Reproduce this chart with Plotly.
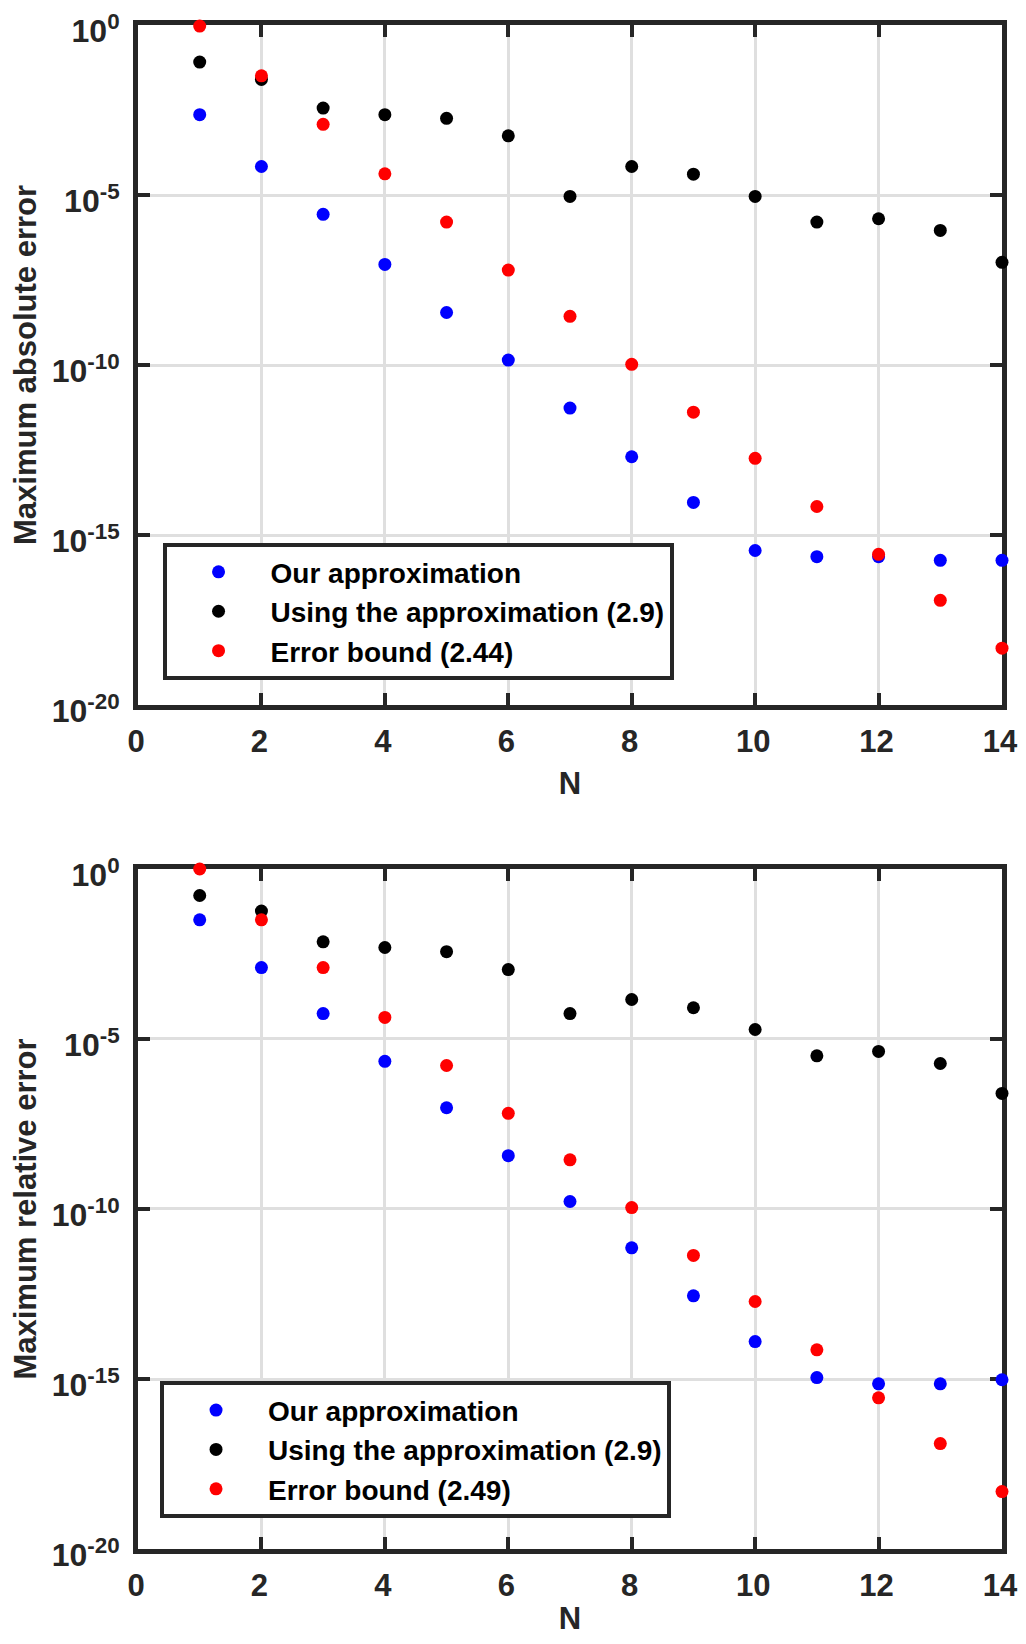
import plotly.graph_objects as go

N = list(range(1, 15))

# Top panel: maximum absolute error
abs_ours = [2.3e-3, 6.9e-5, 2.7e-6, 9.1e-8, 3.5e-9, 1.4e-10, 5.4e-12, 2.0e-13,
            9.1e-15, 3.5e-16, 2.3e-16, 2.3e-16, 1.8e-16, 1.8e-16]
abs_29 = [8.1e-2, 2.5e-2, 3.6e-3, 2.3e-3, 1.8e-3, 5.5e-4, 9.1e-6, 6.9e-5,
          4.1e-5, 9.1e-6, 1.6e-6, 2.0e-6, 9.1e-7, 1.05e-7]
abs_bound = [0.93, 3.2e-2, 1.2e-3, 4.2e-5, 1.6e-6, 6.2e-8, 2.7e-9, 1.05e-10,
             4.1e-12, 1.8e-13, 6.9e-15, 2.7e-16, 1.2e-17, 4.7e-19]

# Bottom panel: maximum relative error
rel_ours = [3.2e-2, 1.26e-3, 5.6e-5, 2.2e-6, 9.5e-8, 3.7e-9, 1.66e-10, 7.2e-12,
            2.8e-13, 1.26e-14, 1.1e-15, 7.2e-16, 7.2e-16, 9.5e-16]
rel_29 = [0.166, 5.8e-2, 7.2e-3, 4.9e-3, 3.7e-3, 1.1e-3, 5.6e-5, 1.45e-4,
          8.3e-5, 1.9e-5, 3.2e-6, 4.3e-6, 1.9e-6, 2.5e-7]
rel_bound = [1.0, 3.2e-2, 1.26e-3, 4.3e-5, 1.66e-6, 6.5e-8, 2.8e-9, 1.1e-10,
             4.3e-12, 1.9e-13, 7.2e-15, 2.8e-16, 1.26e-17, 4.9e-19]

names_top = ["Our approximation", "Using the approximation (2.9)", "Error bound (2.44)"]
names_bot = ["Our approximation", "Using the approximation (2.9)", "Error bound (2.49)"]
colors = ["#0000ff", "#000000", "#ff0000"]

y_tickvals = [1e-20, 1e-15, 1e-10, 1e-5, 1]
y_ticktext = ["10<sup>-20</sup>", "10<sup>-15</sup>", "10<sup>-10</sup>", "10<sup>-5</sup>", "10<sup>0</sup>"]
x_tickvals = [0, 2, 4, 6, 8, 10, 12, 14]

FONT = "Liberation Sans, Arial, Helvetica, sans-serif"
AX = "#262626"
GRID = "#dfdfdf"

fig = go.Figure()
for ys, nm, c in zip([abs_ours, abs_29, abs_bound], names_top, colors):
    fig.add_trace(go.Scatter(x=N, y=ys, mode="markers", name=nm,
                             marker=dict(color=c, size=13), cliponaxis=False,
                             xaxis="x", yaxis="y", legend="legend"))
for ys, nm, c in zip([rel_ours, rel_29, rel_bound], names_bot, colors):
    fig.add_trace(go.Scatter(x=N, y=ys, mode="markers", name=nm,
                             marker=dict(color=c, size=13), cliponaxis=False,
                             xaxis="x2", yaxis="y2", legend="legend2"))

common_x = dict(range=[0, 14], tickvals=x_tickvals, showline=True, linewidth=5,
                linecolor=AX, mirror="allticks", ticks="inside", ticklen=12,
                tickwidth=4, tickcolor=AX, showgrid=True, gridcolor=GRID,
                gridwidth=3, zeroline=False, layer="below traces", automargin=False,
                tickfont=dict(family=FONT, size=31, color=AX, weight="bold"),
                ticklabelstandoff=5, ticklabelshift=-2, ticklabeloverflow="allow")
common_y = dict(type="log", range=[-20, 0], tickvals=y_tickvals, ticktext=y_ticktext,
                showline=True, linewidth=5, linecolor=AX, mirror="allticks",
                ticks="inside", ticklen=12, tickwidth=4, tickcolor=AX,
                showgrid=True, gridcolor=GRID, gridwidth=3, zeroline=False,
                layer="below traces", automargin=False,
                tickfont=dict(family=FONT, size=32, color=AX, weight="bold"),
                ticklabelstandoff=7, ticklabelshift=6, ticklabeloverflow="allow")

title_font = dict(family=FONT, size=31, color=AX, weight="bold")

legend_font = dict(family=FONT, size=28, color="#000000", weight="bold")

fig.update_layout(
    width=1010, height=1628,
    margin=dict(l=130, r=16, t=17, b=87, autoexpand=False),
    paper_bgcolor="white", plot_bgcolor="white",
    xaxis=dict(domain=[0, 1], anchor="y",
               title=dict(text="N", font=title_font, standoff=16), **common_x),
    yaxis=dict(domain=[0.5538, 1.0], anchor="x",
               title=dict(text="Maximum absolute error", font=title_font, standoff=8), **common_y),
    xaxis2=dict(domain=[0, 1], anchor="y2",
                title=dict(text="N", font=title_font, standoff=16), **common_x),
    yaxis2=dict(domain=[0.0, 0.4462], anchor="x2",
                title=dict(text="Maximum relative error", font=title_font, standoff=8), **common_y),
    legend=dict(x=0.0284, y=0.660, xanchor="left", yanchor="top",
                bgcolor="white", bordercolor=AX, borderwidth=4, itemwidth=94,
                font=legend_font),
    legend2=dict(x=0.0255, y=0.110, xanchor="left", yanchor="top",
                 bgcolor="white", bordercolor=AX, borderwidth=4, itemwidth=94,
                 font=legend_font),
    showlegend=True,
)

fig.write_html("out.html")
